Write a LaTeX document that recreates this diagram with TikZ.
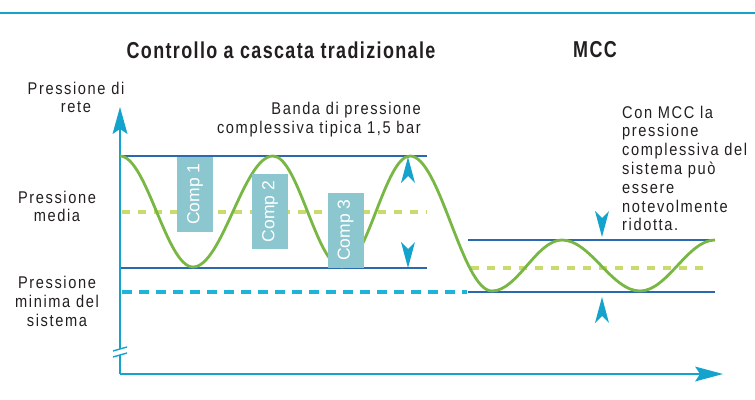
\documentclass[tikz,border=0pt]{standalone}
\usepackage{fontspec}
\setmainfont{Liberation Sans}[FakeStretch=0.86,LetterSpace=9.5]
\newfontfamily\titlefont{Liberation Sans}[FakeStretch=0.78,LetterSpace=6,BoldFont={* Bold}]
\newfontfamily\compfont{Liberation Sans}
\definecolor{axiscol}{HTML}{14A3CC}
\definecolor{bandcol}{HTML}{2B69AE}
\definecolor{curvecol}{HTML}{78B744}
\definecolor{meancol}{HTML}{CADA6C}
\definecolor{mincol}{HTML}{1DB4D9}
\definecolor{boxcol}{HTML}{8CC7CF}
\definecolor{txtcol}{HTML}{231F20}
\begin{document}
\begin{tikzpicture}[x=1pt,y=-1pt,
  lbl/.style={text=txtcol,inner sep=0pt,font=\fontsize{17}{18.8}\selectfont},
  titlelbl/.style={text=txtcol,inner sep=0pt,font=\titlefont\bfseries\fontsize{23}{25}\selectfont},
  comp/.style={fill=boxcol,text=white,inner sep=0pt,minimum width=75pt,minimum height=36pt,rotate=90,font=\compfont\fontsize{17.5}{18}\selectfont},
  axisline/.style={draw=axiscol,line width=1.6pt},
  bandline/.style={draw=bandcol,line width=1.2pt},
  meanline/.style={draw=meancol,line width=3.2pt,dash pattern=on 8pt off 8pt},
  minline/.style={draw=mincol,line width=3.2pt,dash pattern=on 10pt off 7pt},
  curve/.style={draw=curvecol,line width=2.8pt},
  headfill/.style={fill=axiscol,draw=none},
  tipup/.pic={\path[headfill] (0,0) -- (-7,26) -- (0,19) -- (7,26) -- cycle;},
  tipdown/.pic={\path[headfill] (0,0) -- (-7,-26) -- (0,-19) -- (7,-26) -- cycle;}
]
\useasboundingbox (0,0) rectangle (755,399);

% top rule
\coordinate (topL) at (0,13);
\coordinate (topR) at (755,13);
\draw[axisline] (topL) -- (topR);

% titles
\node[titlelbl] (t1) at (281,50) {Controllo a cascata tradizionale};
\node[titlelbl] (t2) at (595,50) {MCC};

% reference lines (left)
\coordinate (bandTL) at (120,156);
\coordinate (bandTR) at (427,156);
\coordinate (bandBL) at (120,268);
\coordinate (bandBR) at (427,268);
\coordinate (meanL) at (122,212);
\coordinate (meanR) at (427,212);
\coordinate (minL) at (122,292);
\coordinate (minR) at (467,292);
\draw[bandline] (bandTL) -- (bandTR);
\draw[bandline] (bandBL) -- (bandBR);
\draw[meanline] (meanL) -- (meanR);
\draw[minline] (minL) -- (minR);

% reference lines (right)
\coordinate (rbandTL) at (468,240);
\coordinate (rbandTR) at (715,240);
\coordinate (rbandBL) at (468,292);
\coordinate (rbandBR) at (715,292);
\coordinate (rmeanL) at (471,268);
\coordinate (rmeanR) at (706,268);
\draw[bandline] (rbandTL) -- (rbandTR);
\draw[bandline] (rbandBL) -- (rbandBR);
\draw[meanline] (rmeanL) -- (rmeanR);

% axes
\coordinate (origin) at (120,374);
\coordinate (ytip) at (120,110);
\coordinate (xtip) at (718,374);
\draw[axisline] (origin) -- (ytip);
\draw[axisline] (origin) -- (xtip);
\path[headfill] (120,107) -- (112.5,134) -- (120,129) -- (127.5,134) -- cycle;
\path[headfill] (723,374) -- (695,366.5) -- (700,374) -- (695,381.5) -- cycle;
% axis break
\path[fill=white] (110,351.5) -- (130,346) -- (130,352) -- (110,357.5) -- cycle;
\draw[draw=axiscol,line width=1.4pt] (113,351) -- (127,347);
\draw[draw=axiscol,line width=1.4pt] (113,357) -- (127,353);

% pressure curve
\draw[curve] (120,156)
  .. controls (146.5,156) and (166.5,267) .. (193,267)
  .. controls (222.1,267) and (243.9,156) .. (273,156)
  .. controls (298.1,156) and (316.9,267) .. (342,267)
  .. controls (366.7,267) and (385.3,156) .. (410,156)
  .. controls (439.8,156) and (462.2,291) .. (492,291)
  .. controls (517.4,291) and (536.6,240) .. (562,240)
  .. controls (590.3,240) and (611.7,291) .. (640,291)
  .. controls (667.3,291) and (687.7,240) .. (715,240);

% compressor boxes
\node[comp] (c1) at (195,194) {Comp 1};
\node[comp] (c2) at (270,211.5) {Comp 2};
\node[comp] (c3) at (345.5,230) {Comp 3};

% band arrowheads
\pic at (408,157) {tipup};
\pic at (408,268) {tipdown};
\pic at (602,237) {tipdown};
\pic at (602,297) {tipup};

% labels
\node[lbl,align=center] (ylab) at (76,97.5) {Pressione di\\rete};
\node[lbl,align=center] (mlab) at (57,206.5) {Pressione\\media};
\node[lbl,align=center] (minlab) at (57,301.5) {Pressione\\minima del\\sistema};
\node[lbl,align=right,anchor=east] (band) at (421,120) {Banda di pressione\\complessiva tipica 1,5 bar};
\node[lbl,align=left,anchor=west] (mccnote) at (622,168.5) {Con MCC la\\pressione\\complessiva del\\sistema può\\essere\\notevolmente\\ridotta.};
\end{tikzpicture}
\end{document}
